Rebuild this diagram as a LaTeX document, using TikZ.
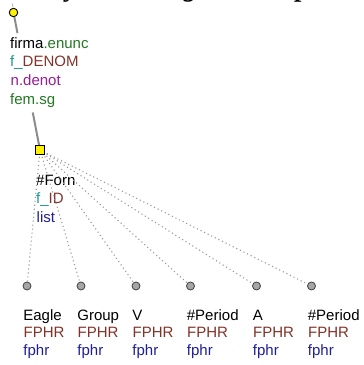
\documentclass[tikz,border=0pt]{standalone}
\usepackage{fontspec}
\setmainfont{Liberation Sans}
\newfontfamily\titleserif{Liberation Serif}
\usetikzlibrary{calc}
\definecolor{cgreen}{RGB}{34,120,34}
\definecolor{cteal}{RGB}{30,150,150}
\definecolor{cbrown}{RGB}{130,50,40}
\definecolor{cpurple}{RGB}{150,30,150}
\definecolor{cnavy}{RGB}{30,30,150}
\definecolor{cedge}{RGB}{140,140,140}
\begin{document}
\begin{tikzpicture}[x=1pt,y=-1pt,
  txt/.style={anchor=base west,inner sep=0pt,font=\fontsize{15}{18}\selectfont},
  ttl/.style={anchor=base west,inner sep=0pt,font=\titleserif\bfseries\itshape\fontsize{27}{30}\selectfont},
  topnode/.style={circle,draw=black,fill=yellow,line width=0.9pt,minimum size=8.5pt,inner sep=0pt},
  sqnode/.style={rectangle,draw=black,fill=yellow,line width=0.9pt,minimum size=9pt,inner sep=0pt},
  leaf/.style={circle,draw=black!70,fill=black!35,line width=0.9pt,minimum size=8pt,inner sep=0pt},
  edge/.style={draw=cedge,line width=2pt},
  dotedge/.style={draw=black!40,line width=1.1pt,dash pattern=on 1.1pt off 2.9pt,shorten <=2pt}]
\useasboundingbox (0,0) rectangle (364,365);
\clip (0,0) rectangle (364,365);
% clipped title fragments
\node[ttl] (t1) at (66,-4) {y};
\node[ttl] (t2) at (184,-4) {g};
\node[ttl] (t3) at (296,-4) {p};
% nodes
\node[topnode] (c1) at (13.5,12.5) {};
\node[sqnode] (sq) at (40,150) {};
\coordinate (tick1) at (12.5,3.5);
\coordinate (tick2) at (12.8,7);
\draw[draw=black!30,line width=0.8pt] (tick1) -- (tick2);
\draw[edge] (c1) -- ($(c1)!0.15!(sq)$);
\draw[edge] ($(c1)!0.727!(sq)$) -- (sq);
% top labels
\node[txt] (l1) at (10,48) {firma\textcolor{cgreen}{.enunc}};
\node[txt] (l2) at (10,66.5) {\textcolor{cteal}{f\_}\textcolor{cbrown}{DENOM}};
\node[txt,text=cpurple] (l3) at (10.5,85.5) {n.denot};
\node[txt,text=cgreen] (l4) at (10,104.5) {fem.sg};
% square labels
\node[txt] (m1) at (36,185) {\#Forn};
\node[txt] (m2) at (36,203.5) {\textcolor{cteal}{f\_}\textcolor{cbrown}{ID}};
\node[txt,text=cnavy] (m3) at (36.5,222) {list};
% leaves
\foreach \i/\x/\w in {1/27/Eagle,2/81/Group,3/136/V,4/190.5/\#Period,5/256.5/A,6/311.5/\#Period}{
  \node[leaf] (k\i) at (\x,286) {};
  \draw[dotedge] (sq) -- (k\i);
  \node[txt] (w\i) at (\x-3.8,320.5) {\w};
  \node[txt,text=cbrown] (f\i) at (\x-3.5,337.5) {FPHR};
  \node[txt,text=cnavy] (p\i) at (\x-3.8,355) {fphr};
}
\end{tikzpicture}
\end{document}
